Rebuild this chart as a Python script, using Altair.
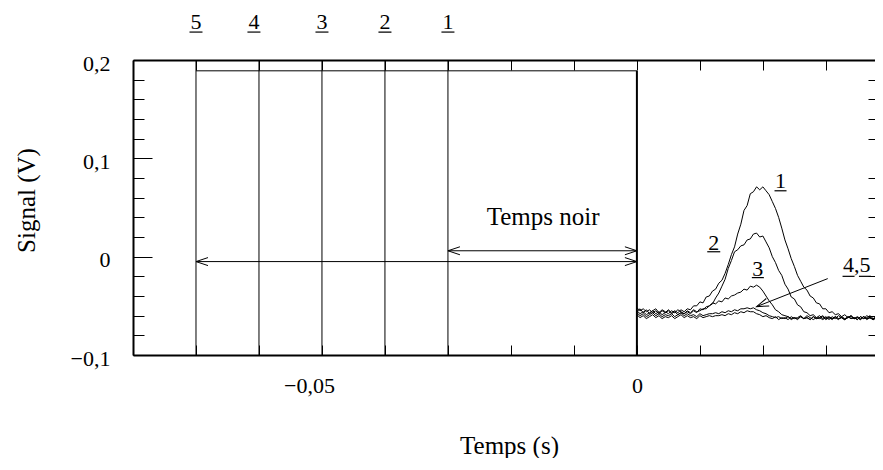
import altair as alt
import pandas as pd

# ---------------- data ----------------
# sampling grid of the recorded signals (s)
t = [round(i * 0.0005, 4) for i in range(79)]

curve1 = [-0.052, -0.055, -0.053, -0.056, -0.054, -0.057, -0.055, -0.058, -0.055, -0.057,
          -0.054, -0.057, -0.055, -0.057, -0.054, -0.056, -0.053, -0.054, -0.050, -0.050,
          -0.046, -0.047, -0.041, -0.040, -0.035, -0.033, -0.027, -0.024, -0.017, -0.008,
          0.002, 0.010, 0.023, 0.033, 0.047, 0.052, 0.064, 0.066, 0.071, 0.068,
          0.071, 0.067, 0.063, 0.056, 0.049, 0.040, 0.029, 0.017, 0.008, -0.002,
          -0.010, -0.019, -0.025, -0.031, -0.034, -0.040, -0.042, -0.047, -0.048, -0.053,
          -0.053, -0.057, -0.056, -0.059, -0.058, -0.061, -0.059, -0.062, -0.060, -0.063,
          -0.061, -0.063, -0.061, -0.064, -0.062, -0.063, -0.061, -0.064, -0.062]

curve2 = [-0.056, -0.053, -0.057, -0.054, -0.058, -0.055, -0.053, -0.057, -0.054, -0.056,
          -0.058, -0.055, -0.057, -0.054, -0.056, -0.058, -0.055, -0.057, -0.054, -0.056,
          -0.055, -0.053,
          -0.053, -0.050, -0.048, -0.042, -0.037, -0.030, -0.023, -0.012, -0.004, 0.005,
          0.007, 0.011, 0.012, 0.017, 0.018, 0.023, 0.024, 0.020, 0.021, 0.015,
          0.009, 0.000, -0.006, -0.014, -0.019, -0.028, -0.033, -0.041, -0.043, -0.049,
          -0.051, -0.056, -0.057, -0.060, -0.059,
          -0.062, -0.060, -0.063, -0.061, -0.064, -0.061, -0.063, -0.060, -0.062, -0.064,
          -0.061, -0.063, -0.062, -0.064, -0.061, -0.063, -0.060, -0.062, -0.064, -0.062,
          -0.063, -0.061]

curve3 = [-0.055, -0.058, -0.056, -0.059, -0.057, -0.055, -0.058, -0.056, -0.059, -0.057,
          -0.055, -0.058, -0.056, -0.059, -0.057, -0.058, -0.056, -0.058, -0.055, -0.057,
          -0.053, -0.054, -0.051, -0.050, -0.047, -0.048, -0.045, -0.046, -0.042, -0.043,
          -0.040, -0.039, -0.037, -0.036, -0.033, -0.034, -0.030, -0.031, -0.029, -0.031,
          -0.035, -0.040, -0.045, -0.049, -0.054, -0.056, -0.059, -0.060,
          -0.061, -0.063, -0.062, -0.064, -0.061, -0.063, -0.060, -0.062, -0.064, -0.062,
          -0.063, -0.061, -0.064, -0.062, -0.063, -0.061, -0.063, -0.062, -0.064, -0.061,
          -0.063, -0.062, -0.064, -0.061, -0.063, -0.062, -0.060, -0.063, -0.062, -0.064,
          -0.062]

curve4 = [-0.057, -0.060, -0.058, -0.061, -0.059, -0.057, -0.060, -0.058, -0.061, -0.059,
          -0.060, -0.058, -0.061, -0.059, -0.057, -0.060, -0.058, -0.060, -0.059, -0.061,
          -0.058, -0.060, -0.059, -0.058,
          -0.058, -0.057, -0.058, -0.056, -0.057, -0.055, -0.056, -0.054, -0.055, -0.053,
          -0.053, -0.052, -0.053, -0.052, -0.054, -0.055, -0.057, -0.058, -0.060, -0.061,
          -0.062, -0.061, -0.063, -0.062, -0.064, -0.061, -0.063, -0.062, -0.060, -0.063,
          -0.062, -0.064, -0.061, -0.063, -0.062, -0.064, -0.062, -0.061, -0.063, -0.062,
          -0.064, -0.061, -0.063, -0.062, -0.060, -0.063, -0.062, -0.064, -0.061, -0.063,
          -0.062, -0.064, -0.062, -0.063, -0.061]

curve5 = [-0.059, -0.062, -0.060, -0.063, -0.061, -0.059, -0.062, -0.060, -0.063, -0.061,
          -0.062, -0.060, -0.063, -0.061, -0.059, -0.062, -0.060, -0.062, -0.061, -0.063,
          -0.060, -0.062, -0.061, -0.060, -0.061, -0.060,
          -0.060, -0.059, -0.060, -0.058, -0.059, -0.057, -0.058, -0.056, -0.057, -0.055,
          -0.056, -0.056, -0.058, -0.059, -0.061, -0.060, -0.062,
          -0.063, -0.061, -0.064, -0.062, -0.063, -0.061, -0.064, -0.062, -0.063, -0.061,
          -0.063, -0.062, -0.064, -0.061, -0.063, -0.062, -0.060, -0.063, -0.062, -0.064,
          -0.061, -0.063, -0.062, -0.064, -0.062, -0.061, -0.063, -0.062, -0.064, -0.061,
          -0.063, -0.062, -0.064, -0.062, -0.063, -0.061]

curve_names = ["1", "2", "3", "4", "5"]

# pulse onsets (s), saturated plateau level (V)
pulse_x = [-0.07, -0.06, -0.05, -0.04, -0.03]
pulse_bottom = [-0.1] * 5
pulse_top = [0.2] * 5
plateau_start = [-0.07]
plateau_end = [0.0]
plateau_level = [0.189]
drop_x = [0.0]
drop_top = [0.189]
drop_bottom = [-0.1]

# axis values
x_label_values = [-0.05, 0.0]
x_tick_values = [-0.08, -0.07, -0.06, -0.05, -0.04, -0.03, -0.02, -0.01, 0.0, 0.01, 0.02, 0.03]
y_label_values = [-0.1, 0.0, 0.1, 0.2]
y_minor_values = [-0.08, -0.06, -0.04, -0.02, 0.02, 0.04, 0.06, 0.08,
                  0.12, 0.14, 0.16, 0.18]

# annotations
text_labels = ["5", "4", "3", "2", "1", "1", "2", "3", "4,5", "Temps noir"]
text_x = [-0.07, -0.0608, -0.05, -0.04, -0.03, 0.0228, 0.0122, 0.0192, 0.0349, -0.0149]
text_y = [0.2315, 0.2315, 0.2315, 0.2315, 0.2315, 0.070, 0.0071, -0.0193, -0.0152, 0.0325]
text_size = [22, 22, 22, 22, 22, 22, 22, 22, 22, 25]

underline_x = [-0.07, -0.0608, -0.05, -0.04, -0.03, 0.0228, 0.0122, 0.0192, 0.0336, 0.0362]
underline_y = [0.2284, 0.2284, 0.2284, 0.2284, 0.2284, 0.067, 0.005, -0.0213, -0.020, -0.020]
underline_w = [13, 13, 13, 13, 13, 12, 13, 12, 12, 12]

arrow_x = [-0.03, -0.07, 0.0303]
arrow_y = [0.006, -0.005, -0.0223]
arrow_x2 = [0.0, 0.0, 0.019]
arrow_y2 = [0.006, -0.005, -0.0508]

LEFT = "M 2.4 -0.8 L 0 0 L 2.4 0.8"
RIGHT = "M -2.4 -0.8 L 0 0 L -2.4 0.8"
head_x = [-0.03, 0.0, -0.07, 0.0, 0.019]
head_y = [0.006, 0.006, -0.005, -0.005, -0.0508]
head_shape = [LEFT, RIGHT, LEFT, RIGHT, LEFT]
head_angle = [0, 0, 0, 0, 338.5]

# ---------------- chart ----------------
W, H = 742, 295
FONT = "Liberation Serif"
xs = alt.Scale(domain=[-0.08, 0.0378], nice=False, zero=False)
ys = alt.Scale(domain=[-0.1, 0.2], nice=False, zero=False)

rows = []
for name, vals in zip(curve_names, [curve1, curve2, curve3, curve4, curve5]):
    assert len(vals) == len(t), (name, len(vals))
    for ti, v in zip(t, vals):
        rows.append({"t": ti, "v": v, "c": name})
curves_df = pd.DataFrame(rows)

pulses_df = pd.DataFrame({"x": pulse_x, "y0": pulse_bottom, "y1": pulse_top})
plateau_df = pd.DataFrame({"x0": plateau_start, "x1": plateau_end, "y": plateau_level})
drop_df = pd.DataFrame({"x": drop_x, "y0": drop_top, "y1": drop_bottom})
text_df = pd.DataFrame({"label": text_labels, "x": text_x, "y": text_y, "fs": text_size})
ul_df = pd.DataFrame({"x": underline_x, "y": underline_y, "w": underline_w})
arrow_df = pd.DataFrame({"x": arrow_x, "y": arrow_y, "x2": arrow_x2, "y2": arrow_y2})
head_df = pd.DataFrame({"x": head_x, "y": head_y, "shape": head_shape, "ang": head_angle})

x_fmt = "replace(format(datum.value, '.2~f'), '.', ',')"
y_fmt = "replace(format(datum.value, '.1~f'), '.', ',')"

# pulses + main labelled axes (bottom and left frame)
l_pulses = alt.Chart(pulses_df).mark_rule(color="black", strokeWidth=1).encode(
    x=alt.X("x:Q", scale=xs, axis=alt.Axis(
        orient="bottom", values=x_label_values, ticks=False, tickSize=0,
        domain=True, domainWidth=2, grid=False, labelExpr=x_fmt, labelPadding=20,
        labelOffset={"condition": {"test": "datum.value < -0.01", "value": -13}, "value": 0},
        title="Temps (s)", titleX=376, titleY=98, titleBaseline="alphabetic")),
    y=alt.Y("y0:Q", scale=ys, axis=alt.Axis(
        orient="left", values=y_label_values, ticks=False, tickSize=0,
        domain=True, domainWidth=2, grid=False, labelExpr=y_fmt, labelPadding=23,
        labelOffset=3, title="Signal (V)", titleX=-107, titleY=140,
        titleBaseline="middle")),
    y2="y1:Q",
)

# plateau + inner ticks on bottom edge and left edge (minor)
l_plateau = alt.Chart(plateau_df).mark_rule(color="black", strokeWidth=1).encode(
    x=alt.X("x0:Q", scale=xs, axis=alt.Axis(
        orient="top", offset=-H, values=x_tick_values, tickSize=10, labels=False,
        domain=False, grid=False, title=None)),
    x2="x1:Q",
    y=alt.Y("y:Q", scale=ys, axis=alt.Axis(
        orient="right", offset=-W, values=y_minor_values, tickSize=11, labels=False,
        domain=False, grid=False, title=None)),
)

# drop at t = 0 + top frame with inner ticks, right inner ticks
l_drop = alt.Chart(drop_df).mark_rule(color="black", strokeWidth=2).encode(
    x=alt.X("x:Q", scale=xs, axis=alt.Axis(
        orient="bottom", offset=-H, values=x_tick_values, tickSize=10, labels=False,
        domain=True, domainWidth=2, grid=False, title=None)),
    y=alt.Y("y0:Q", scale=ys, axis=alt.Axis(
        orient="left", offset=-W, values=y_minor_values, tickSize=7, labels=False,
        domain=False, grid=False, title=None)),
    y2="y1:Q",
)

# signals + major inner ticks on the left edge
l_curves = alt.Chart(curves_df).mark_line(color="black", strokeWidth=1).encode(
    x=alt.X("t:Q", scale=xs, axis=None),
    y=alt.Y("v:Q", scale=ys, axis=alt.Axis(
        orient="right", offset=-W, values=y_label_values, tickSize=19, labels=False,
        domain=False, grid=False, title=None)),
    detail="c:N",
)

l_arrows = alt.Chart(arrow_df).mark_rule(color="black", strokeWidth=1).encode(
    x=alt.X("x:Q", scale=xs, axis=None),
    y=alt.Y("y:Q", scale=ys, axis=None),
    x2="x2:Q", y2="y2:Q",
)

l_heads = alt.Chart(head_df).mark_point(
    filled=False, color="black", strokeWidth=1, size=100, opacity=1).encode(
    x=alt.X("x:Q", scale=xs, axis=None),
    y=alt.Y("y:Q", scale=ys, axis=None),
    shape=alt.Shape("shape:N", scale=None),
    angle=alt.Angle("ang:Q", scale=None),
)

l_text = alt.Chart(text_df).mark_text(
    font=FONT, color="black", align="center", baseline="alphabetic").encode(
    x=alt.X("x:Q", scale=xs, axis=None),
    y=alt.Y("y:Q", scale=ys, axis=None),
    text="label:N",
    size=alt.Size("fs:Q", scale=None),
)

l_ul = alt.Chart(ul_df).mark_tick(
    orient="horizontal", thickness=1.2, color="black", opacity=1).encode(
    x=alt.X("x:Q", scale=xs, axis=None),
    y=alt.Y("y:Q", scale=ys, axis=None),
    size=alt.Size("w:Q", scale=None),
)

chart = alt.layer(
    l_pulses, l_plateau, l_drop, l_curves, l_arrows, l_heads, l_text, l_ul
).resolve_scale(x="shared", y="shared").resolve_axis(
    x="independent", y="independent"
).properties(
    width=W, height=H,
    autosize=alt.AutoSizeParams(type="none"),
    padding={"left": 125, "top": 52, "right": 0, "bottom": 103},
).configure_view(stroke=None).configure_axis(
    labelFont=FONT, titleFont=FONT, labelFontSize=22, titleFontSize=25,
    titleFontWeight="normal", labelColor="black", titleColor="black",
    domainColor="black", tickColor="black", tickWidth=1, grid=False,
)

chart.save("out.html", embed_options={"renderer": "svg", "actions": False})
